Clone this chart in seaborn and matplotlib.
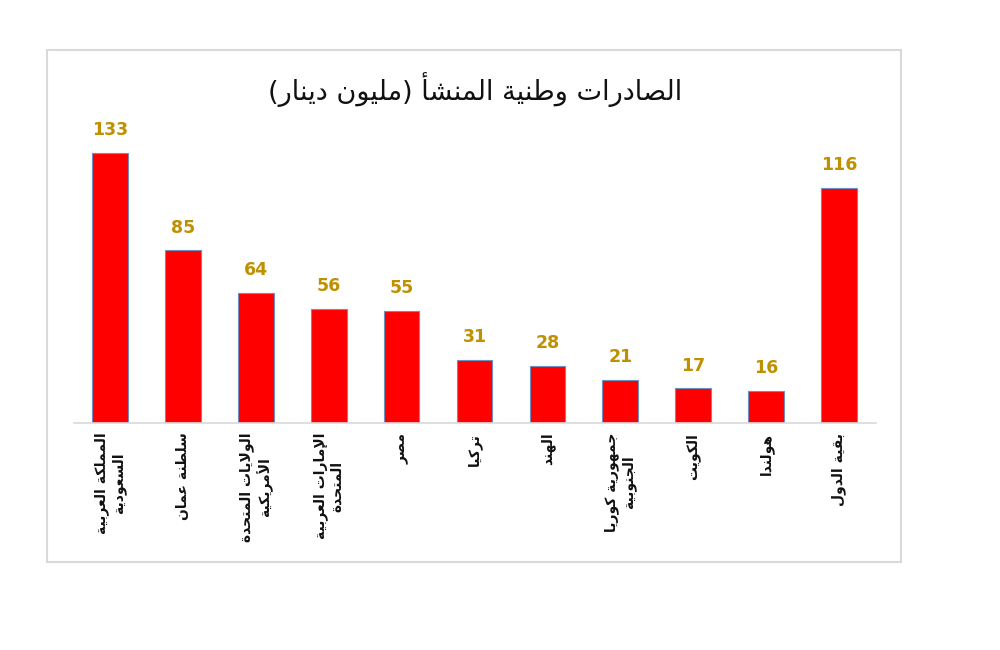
import matplotlib
matplotlib.use('Agg')
import matplotlib.pyplot as plt
import seaborn as sns
import pandas as pd
from matplotlib.patches import Rectangle

# data
countries = ['المملكة العربية\nالسعودية', 'سلطنة عمان', 'الولايات المتحدة\nالأمريكية',
             'الإمارات العربية\nالمتحدة', 'مصر', 'تركيا', 'الهند',
             'جمهورية كوريا\nالجنوبية', 'الكويت', 'هولندا', 'بقية الدول']
values = [133, 85, 64, 56, 55, 31, 28, 21, 17, 16, 116]
title = 'الصادرات وطنية المنشأ (مليون دينار)'

# minimal arabic shaping (matplotlib does no shaping / bidi)
BASE = {'ء': (0xFE80, 1), 'آ': (0xFE81, 2), 'أ': (0xFE83, 2), 'ؤ': (0xFE85, 2),
        'إ': (0xFE87, 2), 'ئ': (0xFE89, 4), 'ا': (0xFE8D, 2), 'ب': (0xFE8F, 4),
        'ة': (0xFE93, 2), 'ت': (0xFE95, 4), 'ث': (0xFE99, 4), 'ج': (0xFE9D, 4),
        'ح': (0xFEA1, 4), 'خ': (0xFEA5, 4), 'د': (0xFEA9, 2), 'ذ': (0xFEAB, 2),
        'ر': (0xFEAD, 2), 'ز': (0xFEAF, 2), 'س': (0xFEB1, 4), 'ش': (0xFEB5, 4),
        'ص': (0xFEB9, 4), 'ض': (0xFEBD, 4), 'ط': (0xFEC1, 4), 'ظ': (0xFEC5, 4),
        'ع': (0xFEC9, 4), 'غ': (0xFECD, 4), 'ف': (0xFED1, 4), 'ق': (0xFED5, 4),
        'ك': (0xFED9, 4), 'ل': (0xFEDD, 4), 'م': (0xFEE1, 4), 'ن': (0xFEE5, 4),
        'ه': (0xFEE9, 4), 'و': (0xFEED, 2), 'ى': (0xFEEF, 2), 'ي': (0xFEF1, 4)}
LAM_ALEF = {'آ': 0xFEF5, 'أ': 0xFEF7, 'إ': 0xFEF9, 'ا': 0xFEFB}
MIRROR = {'(': ')', ')': '('}


def shape_line(line):
    units = []
    i = 0
    while i < len(line):
        c = line[i]
        if c == 'ل' and i + 1 < len(line) and line[i + 1] in LAM_ALEF:
            units.append(('LA', line[i + 1]))
            i += 2
        else:
            units.append((c, None))
            i += 1

    def letter(u):
        return u is not None and (u[0] in BASE or u[0] == 'LA')

    def joins_next(u):
        return u is not None and u[0] in BASE and BASE[u[0]][1] == 4

    out = []
    for j, u in enumerate(units):
        prev = units[j - 1] if j > 0 else None
        nxt = units[j + 1] if j + 1 < len(units) else None
        jp = joins_next(prev) and letter(u)
        jn = joins_next(u) and letter(nxt)
        if u[0] == 'LA':
            out.append(chr(LAM_ALEF[u[1]] + (1 if jp else 0)))
        elif u[0] in BASE:
            base, n = BASE[u[0]]
            if n == 4:
                k = {(False, False): 0, (True, False): 1, (False, True): 2, (True, True): 3}[(jp, jn)]
            elif n == 2:
                k = 1 if jp else 0
            else:
                k = 0
            out.append(chr(base + k))
        else:
            out.append(u[0])
    return ''.join(MIRROR.get(ch, ch) for ch in reversed(out))


def shape(text):
    return '\n'.join(shape_line(l) for l in text.split('\n'))


sns.set_style("white")
plt.rcParams['font.family'] = ['DejaVu Sans']

df = pd.DataFrame({'country': [shape(c) for c in countries], 'value': values})

fig = plt.figure(figsize=(10, 6.5), dpi=100)
fig.patches.append(Rectangle((0.047, 1 - 562 / 650), 0.854, 512 / 650, transform=fig.transFigure,
                             fill=False, edgecolor='#D9D9D9', linewidth=1.5))
ax = fig.add_axes([0.0735, 1 - 423 / 650, 0.802, 304.5 / 650])

sns.barplot(data=df, x='country', y='value', color='#FF0000', saturation=1, width=0.49,
            edgecolor='#6F8FBF', linewidth=0.8, ax=ax)
ax.set_xlim(-0.5, len(values) - 0.5)
ax.set_ylim(0, 150)

for i, v in enumerate(values):
    ax.annotate(str(v), (i, v), xytext=(0, 10), textcoords='offset points',
                ha='center', va='bottom', color='#BF9000', fontsize=12.5, fontweight='bold')

ax.set_xlabel('')
ax.set_ylabel('')
ax.set_yticks([])
ax.tick_params(axis='x', length=0, pad=7)
ax.set_xticks(range(len(values)))
ax.set_xticklabels(df['country'], rotation=90, ha='center', va='top', fontsize=10,
                   fontweight='bold', multialignment='center', color='#111111')
for s in ['top', 'right', 'left']:
    ax.spines[s].set_visible(False)
ax.spines['bottom'].set_color('#D9D9D9')
ax.spines['bottom'].set_linewidth(1.2)

fig.text(0.475, 1 - 90 / 650, shape(title), ha='center', va='center', fontsize=19.5, color='#111111')

plt.savefig('out.png', dpi=100)
